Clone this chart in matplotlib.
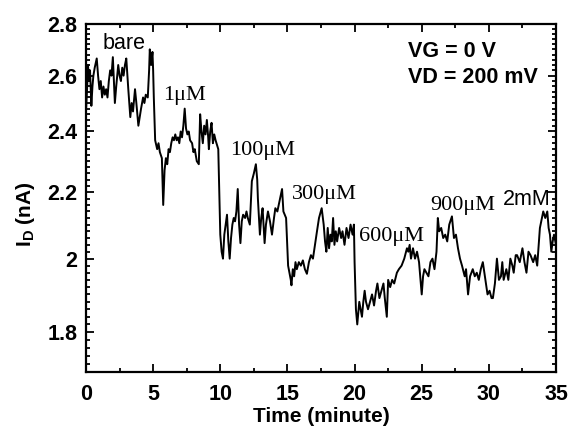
import matplotlib
matplotlib.use("Agg")
import matplotlib.pyplot as plt
from matplotlib.ticker import FixedLocator, MultipleLocator, NullFormatter

plt.rcParams['font.family'] = ['Liberation Sans', 'DejaVu Sans']
plt.rcParams['mathtext.fontset'] = 'custom'
plt.rcParams['mathtext.rm'] = 'Liberation Sans:bold'
plt.rcParams['mathtext.bf'] = 'Liberation Sans:bold'

# drain current trace: time (minute), current (nA)
time_min = [
    0.00, 0.08, 0.15, 0.22, 0.30, 0.40, 0.48, 0.55, 0.65, 0.80, 0.90, 1.00,
    1.10, 1.20, 1.30, 1.40, 1.50, 1.60, 1.70, 1.80, 1.90, 2.00, 2.08, 2.15,
    2.25, 2.40, 2.50, 2.60, 2.70, 2.80, 2.90, 3.00, 3.08, 3.15, 3.30, 3.40,
    3.50, 3.65, 3.75, 3.90, 4.00, 4.10, 4.25, 4.35, 4.45, 4.60, 4.70, 4.75,
    4.85, 4.95, 5.00, 5.05, 5.15, 5.30, 5.40, 5.50, 5.65, 5.75, 5.85, 5.95,
    6.05, 6.15, 6.25, 6.35, 6.45, 6.55, 6.65, 6.75, 6.85, 6.95, 7.05, 7.15,
    7.25, 7.35, 7.45, 7.55, 7.65, 7.75, 7.90, 8.00, 8.10, 8.25, 8.40, 8.50,
    8.60, 8.70, 8.80, 8.90, 9.00, 9.10, 9.15, 9.25, 9.35, 9.45, 9.55, 9.65,
    9.85, 10.00, 10.10, 10.20, 10.30, 10.40, 10.50, 10.60, 10.70, 10.80,
    10.90, 11.00, 11.10, 11.20, 11.30, 11.40, 11.50, 11.60, 11.70, 11.85,
    11.95, 12.05, 12.20, 12.35, 12.50, 12.65, 12.75, 12.80, 12.95, 13.05,
    13.15, 13.30, 13.40, 13.55, 13.70, 13.85, 14.00, 14.10, 14.25, 14.40,
    14.60, 14.70, 14.90, 15.05, 15.15, 15.25, 15.30, 15.40, 15.50, 15.60,
    15.70, 15.85, 16.00, 16.15, 16.30, 16.45, 16.60, 16.75, 16.90, 17.05,
    17.20, 17.35, 17.55, 17.70, 17.80, 17.90, 18.00, 18.10, 18.20, 18.30,
    18.40, 18.50, 18.60, 18.70, 18.85, 19.00, 19.10, 19.25, 19.40, 19.55,
    19.70, 19.85, 19.95, 20.00, 20.10, 20.20, 20.35, 20.45, 20.55, 20.65,
    20.75, 20.85, 21.00, 21.15, 21.30, 21.45, 21.60, 21.70, 21.85, 22.00,
    22.15, 22.25, 22.40, 22.50, 22.65, 22.80, 22.95, 23.15, 23.30, 23.50,
    23.70, 23.90, 24.00, 24.10, 24.20, 24.35, 24.50, 24.65, 24.80, 25.00,
    25.10, 25.20, 25.35, 25.50, 25.65, 25.80, 25.95, 26.10, 26.20, 26.30,
    26.45, 26.60, 26.75, 26.90, 27.05, 27.25, 27.40, 27.55, 27.70, 27.85,
    28.00, 28.20, 28.30, 28.45, 28.60, 28.80, 28.95, 29.10, 29.25, 29.40,
    29.55, 29.70, 29.90, 30.05, 30.20, 30.30, 30.45, 30.60, 30.75, 30.90,
    31.00, 31.10, 31.30, 31.45, 31.60, 31.75, 31.85, 32.00, 32.10, 32.30,
    32.50, 32.65, 32.80, 32.95, 33.10, 33.30, 33.45, 33.60, 33.80, 33.90,
    34.05, 34.20, 34.35, 34.45, 34.55, 34.65, 34.75, 34.85, 35.00,
]
current_na = [
    2.47, 2.55, 2.64, 2.58, 2.62, 2.49, 2.56, 2.60, 2.63, 2.665, 2.60, 2.55,
    2.58, 2.52, 2.56, 2.53, 2.55, 2.52, 2.58, 2.62, 2.60, 2.67, 2.58, 2.50,
    2.56, 2.64, 2.60, 2.58, 2.63, 2.60, 2.64, 2.665, 2.60, 2.55, 2.45, 2.50,
    2.47, 2.55, 2.50, 2.42, 2.45, 2.48, 2.52, 2.50, 2.53, 2.52, 2.62, 2.70,
    2.64, 2.69, 2.62, 2.52, 2.37, 2.34, 2.36, 2.33, 2.31, 2.16, 2.27, 2.31,
    2.29, 2.34, 2.33, 2.36, 2.38, 2.37, 2.39, 2.37, 2.38, 2.36, 2.40, 2.38,
    2.42, 2.48, 2.41, 2.39, 2.40, 2.37, 2.36, 2.33, 2.34, 2.30, 2.29, 2.46,
    2.40, 2.36, 2.42, 2.39, 2.44, 2.38, 2.34, 2.40, 2.43, 2.36, 2.39, 2.37,
    2.34, 2.07, 2.02, 2.00, 2.07, 2.10, 2.13, 2.05, 2.00, 2.06,
    2.10, 2.12, 2.11, 2.14, 2.21, 2.10, 2.045, 2.11, 2.13, 2.12,
    2.14, 2.12, 2.10, 2.235, 2.26, 2.29, 2.24, 2.18, 2.07, 2.12,
    2.15, 2.045, 2.10, 2.14, 2.11, 2.07, 2.12, 2.15, 2.14, 2.17,
    2.21, 2.14, 2.12, 1.98, 1.96, 1.94, 1.925, 1.97, 1.95, 1.99,
    1.97, 1.99, 1.98, 1.995, 1.97, 1.957, 1.99, 2.01, 2.00, 2.04,
    2.08, 2.12, 2.15, 2.10, 2.05, 2.02, 2.09, 2.03, 2.07, 2.05,
    2.12, 2.04, 2.08, 2.05, 2.09, 2.06, 2.08, 2.04, 2.09, 2.06,
    2.10, 2.07, 2.10, 1.99, 1.86, 1.82, 1.88, 1.86, 1.84, 1.88,
    1.91, 1.88, 1.86, 1.88, 1.90, 1.87, 1.91, 1.93, 1.89, 1.91,
    1.93, 1.89, 1.84, 1.94, 1.92, 1.94, 1.93, 1.96, 1.97, 1.98,
    2.00, 2.03, 2.02, 2.04, 2.00, 2.03, 2.00, 2.02, 1.99, 1.90,
    1.95, 1.97, 1.96, 1.95, 1.99, 2.00, 1.97, 2.02, 2.12, 2.08,
    2.09, 2.06, 2.07, 2.05, 2.10, 2.125, 2.06, 2.07, 2.03, 2.00,
    1.98, 1.95, 1.97, 1.90, 1.95, 1.97, 1.95, 1.96, 1.94, 1.97,
    1.99, 1.95, 1.90, 1.91, 1.89, 1.89, 1.93, 2.00, 1.94, 1.95,
    1.99, 1.94, 1.97, 1.94, 2.00, 1.98, 1.96, 2.01, 2.01, 1.99,
    2.03, 1.99, 1.96, 2.02, 2.01, 1.99, 2.01, 1.98, 2.09, 2.11,
    2.14, 2.12, 2.14, 2.09, 2.07, 2.02, 2.05, 2.07, 2.04,
]

# concentration labels: text, time (left edge), current (baseline)
step_labels = ["1\u03bcM", "100\u03bcM", "300\u03bcM", "600\u03bcM", "900\u03bcM"]
step_label_t = [5.73, 10.72, 15.34, 20.33, 25.6]
step_label_i = [2.51, 2.32, 2.18, 2.05, 2.146]

y_ticks = [1.8, 2.0, 2.2, 2.4, 2.6, 2.8]
y_tick_labels = ["1.8", "2", "2.2", "2.4", "2.6", "2.8"]

fig = plt.figure(figsize=(5.68, 4.26), dpi=100)
ax = fig.add_axes([0.1514, 0.1268, 0.8275, 0.8169])

ax.plot(time_min, current_na, color='black', lw=1.4)

ax.set_yscale('log')
ax.set_xlim(0, 35)
ax.set_ylim(1.7, 2.8)

ax.yaxis.set_major_locator(FixedLocator(y_ticks))
ax.set_yticklabels(y_tick_labels)
ax.yaxis.set_minor_locator(MultipleLocator(0.02))
ax.yaxis.set_minor_formatter(NullFormatter())
ax.xaxis.set_major_locator(MultipleLocator(5))
ax.xaxis.set_minor_locator(MultipleLocator(2.5))

ax.tick_params(which='both', direction='in', top=True, right=True, width=1.3)
ax.tick_params(which='major', length=6, labelsize=15.5)
ax.tick_params(which='minor', length=3)
ax.tick_params(axis='x', which='major', pad=9)
ax.tick_params(axis='y', which='major', pad=6)
for lab in ax.get_xticklabels() + ax.get_yticklabels():
    lab.set_fontweight('bold')
for sp in ax.spines.values():
    sp.set_linewidth(1.6)

ax.set_xlabel("Time (minute)", fontsize=15, fontweight='bold', labelpad=1)
ax.set_ylabel(r"I$_\mathrm{D}$ (nA)", fontsize=15, fontweight='bold')
ax.yaxis.set_label_coords(-0.105, 0.455)

ax.text(1.2, 2.70, "bare", fontsize=15.5, ha='left', va='baseline')
for txt, t, i in zip(step_labels, step_label_t, step_label_i):
    ax.text(t, i, txt, fontsize=16, family=['Liberation Serif', 'DejaVu Serif'],
            ha='left', va='baseline')
ax.text(31.05, 2.16, "2mM", fontsize=15.5, ha='left', va='baseline')

ax.text(0.685, 0.905, "VG = 0 V", transform=ax.transAxes, fontsize=15.5,
        fontweight='bold', ha='left', va='baseline')
ax.text(0.685, 0.830, "VD = 200 mV", transform=ax.transAxes, fontsize=15.5,
        fontweight='bold', ha='left', va='baseline')

fig.savefig("out.png", dpi=100)
